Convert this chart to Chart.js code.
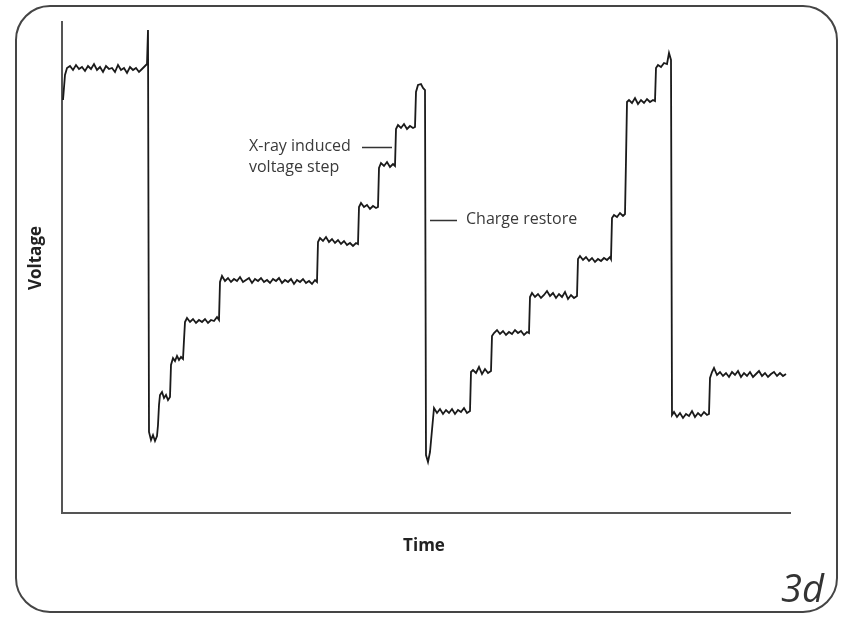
<!DOCTYPE html>
<html>
<head>
<meta charset="utf-8">
<script src="https://cdn.jsdelivr.net/npm/chart.js@4"></script>
<style>
  html, body { margin: 0; padding: 0; background: #fff; }
  #wrap { position: relative; width: 843px; height: 619px; }
</style>
</head>
<body>
<div id="wrap"><canvas id="chart" width="843" height="619"></canvas></div>
<script>
// time (arbitrary units) vs voltage (arbitrary units)
const firstHold = [
  [1,413],[3,438],[5,445],[8,447],[11,443],[14,448],[17,444],[20,446],[23,442],[26,447],
  [29,444],[32,449],[35,443],[38,446],[41,441],[44,447],[47,444],[50,445],[53,441],[56,448],
  [59,443],[62,445],[65,440],[68,446],[71,443],[74,445],[77,441],[80,444],[83,447],[85,449],
  [86,483],[87,81]
]
const firstRamp = [
  [89,73],[91,78],[93,72],[95,77],[96,88],[97,108],[98,118],[100,121],[102,115],[104,118],
  [106,113],[108,116],[109,148],[111,155],[113,152],[115,157],[117,153],[119,156],[121,154],
  [122,173],[123,191],[125,195],[128,191],[131,194],[134,190],[137,193],[140,191],[143,194],
  [146,190],[149,193],[152,192],[155,196],[157,193],
  [158,231],[160,237],[163,232],[166,235],[169,231],[172,234],[175,232],[178,236],[181,231],
  [184,233],[187,235],[190,230],[193,234],[196,232],[199,235],[202,231],[205,233],[208,230],
  [211,234],[214,232],[217,235],[220,230],[223,233],[226,231],[229,234],[232,229],[235,233],
  [238,231],[241,234],[244,230],[247,232],[250,229],[253,233],[255,231],
  [256,271],[258,275],[261,272],[264,276],[267,271],[270,274],[273,270],[276,273],[279,269],
  [282,272],[285,268],[288,270],[291,267],[294,270],[296,269],
  [297,306],[299,310],[302,306],[305,308],[308,304],[311,307],[314,305],[316,306],
  [317,345],[319,350],[322,347],[325,351],[328,346],[331,349],[333,347],
  [334,384],[336,388],[339,385],[342,389],[345,384],[348,387],[351,385],[353,386],
  [354,421],[356,428],[359,429],[361,425],[363,423],[364,58]
]
const secondRamp = [
  [366,51],[368,61],[370,83],[372,105],[375,100],[378,104],[381,99],[384,103],[387,100],
  [390,104],[393,99],[396,103],[399,101],[402,105],[405,100],[408,102],
  [409,141],[411,143],[414,140],[417,146],[420,139],[423,144],[426,140],[429,142],
  [430,177],[432,180],[435,183],[438,179],[441,182],[444,178],[447,181],[450,179],[453,183],
  [456,180],[459,182],[462,178],[465,181],[467,180],
  [468,216],[470,220],[473,216],[476,219],[479,215],[482,218],[485,222],[488,217],[491,220],
  [494,215],[497,219],[500,216],[503,221],[506,214],[509,218],[512,215],[515,217],
  [516,254],[518,257],[521,253],[524,256],[527,252],[530,255],[533,251],[536,254],[539,252],
  [542,255],[545,253],[548,256],[549,254],
  [550,295],[552,298],[555,296],[558,300],[561,297],[563,299],
  [564,353],[565,411],[567,413],[570,410],[573,415],[576,409],[579,413],[582,410],[585,414],
  [588,411],[591,413],[593,412],
  [594,445],[596,448],[599,446],[602,450],[605,449],[607,460],[609,453],[610,98]
]
const lastHold = [
  [612,101],[615,96],[618,100],[621,95],[624,99],[627,97],[630,102],[633,96],[636,100],
  [639,97],[642,101],[645,98],[647,99],
  [648,135],[650,141],[652,145],[655,138],[658,141],[661,137],[664,140],[667,136],[670,141],
  [673,138],[676,142],[679,136],[682,140],[685,137],[688,141],[691,136],[694,139],[697,142],
  [700,137],[703,140],[706,136],[709,139],[712,141],[715,137],[718,140],[721,137],[724,139]
]
const trace = firstHold.concat(firstRamp, secondRamp, lastHold)

const xrayLabel = ['X-ray induced', 'voltage step']
const xrayArrow = [[300, 330], 366]   // from/to time, voltage
const restoreLabel = 'Charge restore'
const restoreArrow = [[368, 395], 293]
const panelTag = '3d'

const decor = {
  id: 'decor',
  beforeDraw(chart) {
    const ctx = chart.ctx
    ctx.save()
    ctx.strokeStyle = '#454545'
    ctx.lineWidth = 2
    ctx.beginPath()
    ctx.roundRect(16, 6, 821, 606, 34)
    ctx.stroke()
    ctx.restore()
  },
  afterDraw(chart) {
    const ctx = chart.ctx
    const x = chart.scales.x, y = chart.scales.y
    ctx.save()
    ctx.strokeStyle = '#333'
    ctx.lineWidth = 1.3
    ctx.beginPath()
    let py = Math.round(y.getPixelForValue(xrayArrow[1])) + 0.5
    ctx.moveTo(x.getPixelForValue(xrayArrow[0][0]), py)
    ctx.lineTo(x.getPixelForValue(xrayArrow[0][1]), py)
    let ry = Math.round(y.getPixelForValue(restoreArrow[1])) + 0.5
    ctx.moveTo(x.getPixelForValue(restoreArrow[0][0]), ry)
    ctx.lineTo(x.getPixelForValue(restoreArrow[0][1]), ry)
    ctx.stroke()

    ctx.fillStyle = '#3a3a3a'
    ctx.font = '16px "Open Sans", sans-serif'
    ctx.textBaseline = 'middle'
    ctx.textAlign = 'left'
    ctx.fillText(xrayLabel[0], 249, py - 1)
    ctx.fillText(xrayLabel[1], 249, py + 20)
    ctx.fillText(restoreLabel, 466, ry - 1)

    ctx.fillStyle = '#222'
    ctx.font = 'bold 17px "Open Sans", sans-serif'
    ctx.textAlign = 'center'
    ctx.fillText('Time', 424, 546)
    ctx.save()
    ctx.translate(36, 258)
    ctx.rotate(-Math.PI / 2)
    ctx.fillText('Voltage', 0, 0)
    ctx.restore()

    ctx.fillStyle = '#333'
    ctx.font = 'italic 38px "Open Sans", sans-serif'
    ctx.textAlign = 'right'
    ctx.fillText(panelTag, 824, 591)
    ctx.restore()
  }
}

const zeroW = (s) => { s.width = 0 }
const zeroH = (s) => { s.height = 0 }

const chart = new Chart(document.getElementById('chart'), {
  type: 'line',
  data: {
    datasets: [{
      data: trace,
      borderColor: '#1a1a1a',
      borderWidth: 1.8,
      pointRadius: 0,
      tension: 0,
      fill: false
    }]
  },
  options: {
    responsive: false,
    animation: false,
    events: [],
    layout: { padding: { left: 62, top: 22, right: 53, bottom: 106 } },
    plugins: { legend: { display: false }, tooltip: { enabled: false } },
    scales: {
      x: {
        type: 'linear', min: 0, max: 728,
        ticks: { display: false }, grid: { display: false, drawTicks: false },
        border: { display: true, color: '#555', width: 2 },
        afterFit: zeroH
      },
      y: {
        type: 'linear', min: 0, max: 491,
        ticks: { display: false }, grid: { display: false, drawTicks: false },
        border: { display: true, color: '#555', width: 2 },
        afterFit: zeroW
      }
    }
  },
  plugins: [decor]
})
</script>
</body>
</html>
